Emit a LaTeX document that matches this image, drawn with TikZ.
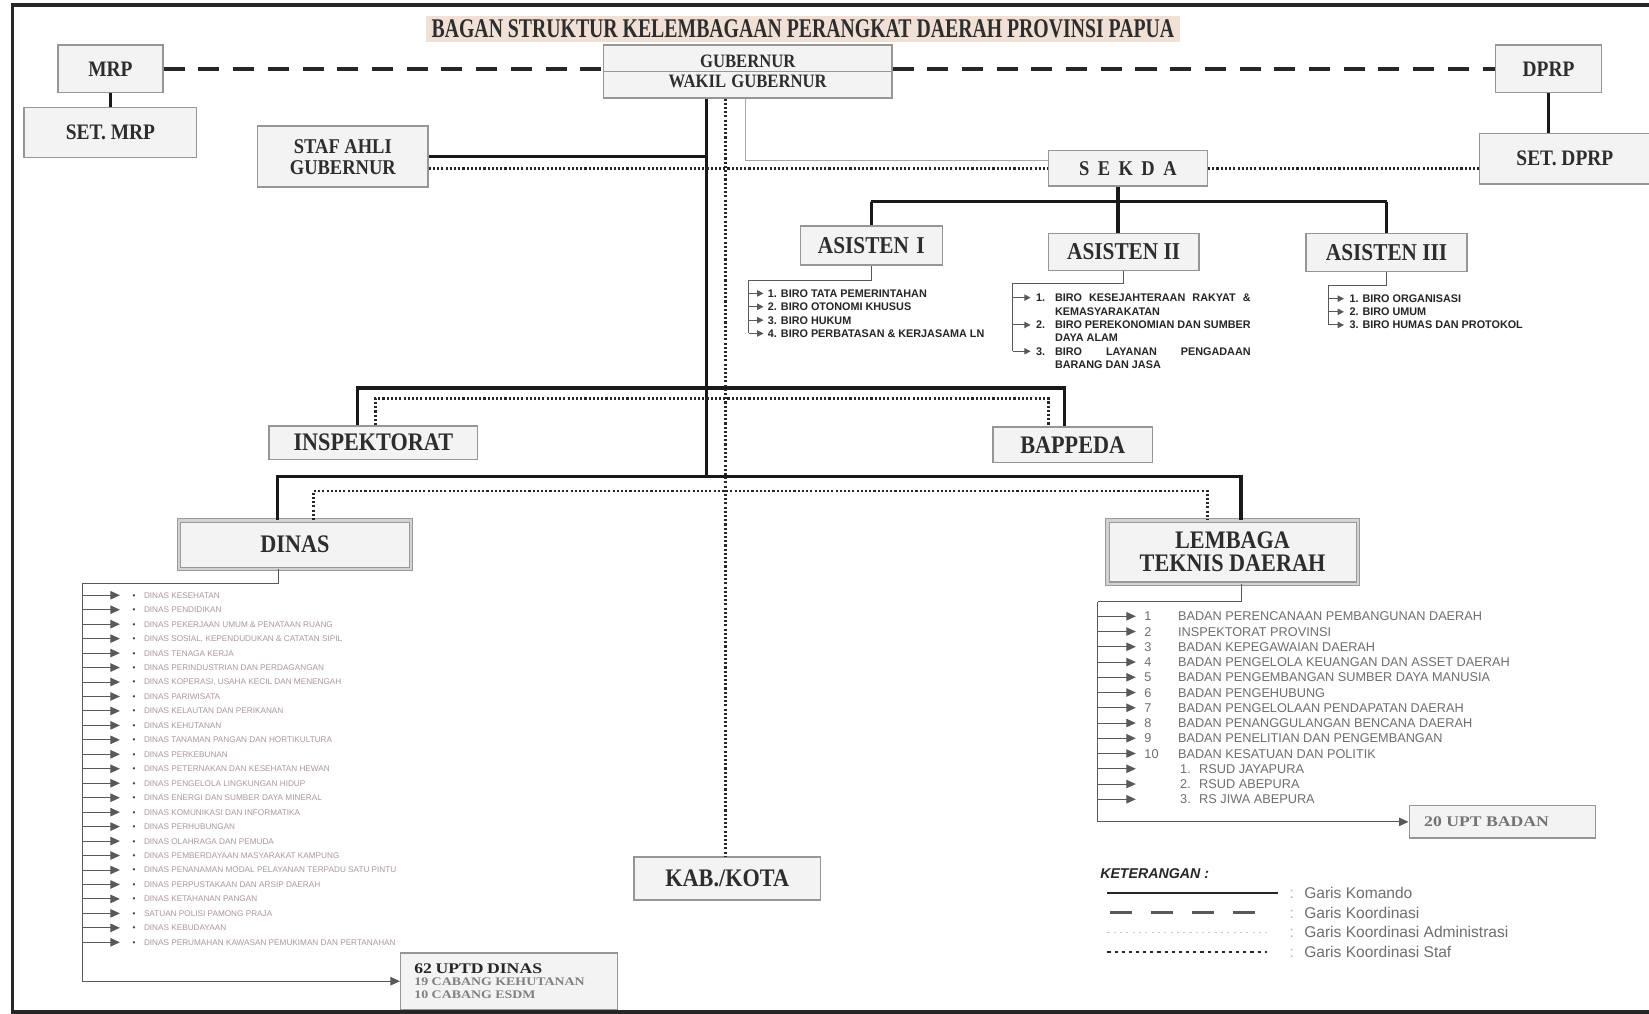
\documentclass[tikz,border=0pt]{standalone}
\usepackage{graphicx}
\usepackage{fontspec}
\setmainfont{Liberation Serif}
\setsansfont{Liberation Sans}
\newfontfamily\cserif[FakeStretch=0.88]{Liberation Serif}
\newfontfamily\wserif[FakeStretch=1.2]{Liberation Serif}
\newfontfamily\nsans[FakeStretch=0.98]{Liberation Sans}
\usetikzlibrary{arrows.meta,calc}
\definecolor{titlebg}{RGB}{240,224,214}
\definecolor{boxfill}{RGB}{243,243,243}
\definecolor{boxline}{RGB}{150,150,150}
\definecolor{dinastext}{RGB}{170,150,158}
\definecolor{ltdtext}{RGB}{110,110,110}
\definecolor{labeltext}{RGB}{45,45,45}
\newcommand{\fsz}[1]{\fontsize{#1}{#1}\selectfont}
\tikzset{
  orgbox/.style={draw=boxline, line width=1.4pt, fill=boxfill, inner sep=0pt, align=center, text=labeltext},
  lab/.style={font=\cserif\bfseries\fsz{#1}},
  bigbox/.style={orgbox, draw=gray!80, double=gray!35, double distance=2.2pt, line width=1pt},
  komando/.style={line width=3pt, black!90},
  koord/.style={line width=3.5pt, black!85, dash pattern=on 20pt off 13pt},
  stafline/.style={line width=2.4pt, black!85, dash pattern=on 2pt off 2pt},
  adminline/.style={line width=1pt, gray!70},
  listline/.style={line width=0.9pt, black!65},
  listarrow/.style={listline, -{Triangle[length=9pt,width=8pt]}},
  smallarrow/.style={listline, -{Triangle[length=6pt,width=6pt]}},
  asitem/.style={anchor=west, inner sep=0pt, font=\nsans\bfseries\fsz{10.5}, text=black!85, text height=7.6pt, text depth=0pt},
  dinasitem/.style={anchor=west, inner sep=0pt, font=\sffamily\fsz{7.8}, text=dinastext, text height=5.6pt, text depth=0pt},
  ltditem/.style={anchor=west, inner sep=0pt, font=\sffamily\fsz{12.1}, text=ltdtext, text height=8.7pt, text depth=0pt},
  legtext/.style={anchor=west, inner sep=0pt, font=\sffamily\fsz{14.8}, text=ltdtext, text height=10.6pt, text depth=0pt},
}
\begin{document}
\begin{tikzpicture}[x=1pt,y=-1pt]
\useasboundingbox (0,0) rectangle (1568,964);
\fill[white] (0,0) rectangle (1568,964);
\draw[line width=3.5pt, black!85] (1575,5) -- (12,5) -- (12,962) -- (1575,962);

% title
\node[fill=titlebg, minimum width=717pt, minimum height=25pt, inner sep=0pt] (title) at (763.5,27.5)
  {\resizebox{706pt}{17pt}{\cserif\bfseries\color{labeltext}BAGAN STRUKTUR KELEMBAGAAN PERANGKAT DAERAH PROVINSI PAPUA}};

% boxes
\node[orgbox, lab=21, minimum width=100pt, minimum height=45pt] (mrp) at (105,65.5) {MRP};
\node[orgbox, lab=21, minimum width=164pt, minimum height=48pt] (setmrp) at (105,126) {SET. MRP};
\node[orgbox, font=\cserif\bfseries\fontsize{18}{19}\selectfont, minimum width=274pt, minimum height=50pt] (gub) at (711,68) {GUBERNUR\\WAKIL\hspace{5pt}GUBERNUR};
\draw[boxline, line width=0.8pt] (gub.west) -- (gub.east);
\node[orgbox, lab=21, minimum width=101pt, minimum height=45pt] (dprp) at (1472.5,65.5) {DPRP};
\node[orgbox, lab=21, minimum width=162pt, minimum height=48pt] (setdprp) at (1488,151) {SET. DPRP};
\node[orgbox, font=\cserif\bfseries\fontsize{20}{20}\selectfont, minimum width=162pt, minimum height=58pt] (staf) at (326,149) {STAF AHLI\\GUBERNUR};
\node[orgbox, lab=20, minimum width=151pt, minimum height=34pt] (sekda) at (1072.5,160) {S\hspace{8pt}E\hspace{8pt}K\hspace{8pt}D\hspace{8pt}A};
\node[orgbox, lab=23, minimum width=135pt, minimum height=37pt] (as1) at (828.5,233.5) {ASISTEN\hspace{7pt}I};
\node[orgbox, lab=23, minimum width=143pt, minimum height=35pt] (as2) at (1068.5,239.5) {ASISTEN II};
\node[orgbox, lab=23, minimum width=153pt, minimum height=36pt] (as3) at (1318.5,240) {ASISTEN III};
\node[orgbox, lab=24, minimum width=198pt, minimum height=32pt] (insp) at (355,421) {INSPEKTORAT};
\node[orgbox, lab=24, minimum width=152pt, minimum height=34pt] (bap) at (1020,423) {BAPPEDA};
\node[bigbox, lab=24, minimum width=221pt, minimum height=46pt] (dinas) at (280.5,518) {DINAS};
\node[bigbox, font=\cserif\bfseries\fontsize{24}{22}\selectfont, minimum width=238pt, minimum height=60pt] (ltd) at (1172,525) {LEMBAGA\\TEKNIS DAERAH};
\node[orgbox, lab=24, minimum width=177pt, minimum height=41pt] (kab) at (691.5,835.5) {KAB./KOTA};
\node[orgbox, align=left, text width=180pt, inner xsep=13pt, minimum height=54pt, font=\wserif\bfseries] (uptd) at (484,933)
  {{\fontsize{14}{13}\selectfont\color{black!85}62 UPTD DINAS}\\[-1pt]
   {\fontsize{11}{12}\selectfont\color{gray}19 CABANG KEHUTANAN}\\
   {\fontsize{11}{12}\selectfont\color{gray}10 CABANG ESDM}};
\node[orgbox, font=\wserif\bfseries\fsz{14}, text=gray!90!black, minimum width=177pt, minimum height=31pt] (uptb) at (1428.5,781.5) {20 UPT BADAN\hspace{30pt}};

% coordinates
\coordinate (trunk) at (672,0);
\coordinate (adm) at (709,0);
\coordinate (dotx) at (690,0);
\coordinate (b1L) at (340,369); \coordinate (b1R) at (1012,369);
\coordinate (b2L) at (264,453); \coordinate (b2R) at (1180,453);
\coordinate (d1L) at (357,379); \coordinate (d1R) at (997,379);
\coordinate (d2L) at (298,467); \coordinate (d2R) at (1148,467);
\coordinate (sx) at (1063,192);
\coordinate (sd) at ([yshift=-11pt]staf.east);

% koordinasi (dashed)
\draw[koord] (mrp.east) -- (gub.west |- mrp.east);
\draw[koord] (gub.east |- dprp.west) -- (dprp.west);
% komando
\draw[komando] (mrp.south) -- (setmrp.north);
\draw[komando] (dprp.south) -- (dprp.south |- setdprp.north);
\draw[komando] (gub.south -| trunk) -- (trunk |- b2L);
\draw[komando] (staf.east) -- (staf.east -| trunk);
\draw[komando] (insp.north -| b1L) -- (b1L) -- (b1R) -- (bap.north -| b1R);
\draw[komando] (dinas.north -| b2L) -- (b2L) -- (b2R) -- (ltd.north -| b2R);
\draw[komando] (sekda.south -| sx) -- (sx);
\draw[komando] (as1.north |- sx) -- (as3.north |- sx);
\draw[komando] (as1.north |- sx) -- (as1.north);
\draw[komando] (sx) -- (as2.north -| sx);
\draw[komando] (as3.north |- sx) -- (as3.north);
% administrasi
\draw[adminline] (gub.south -| adm) |- ([yshift=7pt]sekda.west);
% staf (dotted)
\draw[stafline] (sd) -- (sd -| sekda.west);
\draw[stafline] (sekda.east) -- (sekda.east -| setdprp.west);
\draw[stafline] (gub.south -| dotx) -- (kab.north -| dotx);
\draw[stafline] (insp.north -| d1L) -- (d1L) -- (d1R) -- (bap.north -| d1R);
\draw[stafline] (dinas.north -| d2L) -- (d2L) -- (d2R) -- (ltd.north -| d2R);

% Asisten I list
\coordinate (a1c) at (712,267);
\foreach \t [count=\i] in {1. BIRO TATA PEMERINTAHAN, 2. BIRO OTONOMI KHUSUS, 3. BIRO HUKUM, 4. BIRO PERBATASAN \& KERJASAMA LN}
  \node[asitem] (a1i\i) at (730,{279+12.7*(\i-1)}) {\t};
\draw[listline] (as1.south) |- (a1c) -- (a1c |- a1i4.west);
\foreach \i in {1,...,4} \draw[smallarrow] (a1c |- a1i\i.west) -- ([xshift=-4pt]a1i\i.west);

% Asisten II list
\coordinate (a2c) at (963,270);
\node[asitem] (a2n1) at (985,283) {1.};
\node[asitem] (a2n2) at (985,309) {2.};
\node[asitem] (a2n3) at (985,334) {3.};
\node[asitem] (a2l1a) at (1003,283) {\makebox[186pt][s]{BIRO KESEJAHTERAAN RAKYAT \&}};
\node[asitem] (a2l1b) at (1003,296) {KEMASYARAKATAN};
\node[asitem] (a2l2a) at (1003,309) {\makebox[186pt][s]{BIRO PEREKONOMIAN DAN SUMBER}};
\node[asitem] (a2l2b) at (1003,321) {DAYA ALAM};
\node[asitem] (a2l3a) at (1003,334) {\makebox[186pt][s]{BIRO LAYANAN PENGADAAN}};
\node[asitem] (a2l3b) at (1003,347) {BARANG DAN JASA};
\draw[listline] (as2.south) |- (a2c) -- (a2c |- a2n3.west);
\foreach \i in {1,2,3} \draw[smallarrow] (a2c |- a2n\i.west) -- ([xshift=-5pt]a2n\i.west);

% Asisten III list
\coordinate (a3c) at (1263,271);
\foreach \t [count=\i] in {1. BIRO ORGANISASI, 2. BIRO UMUM, 3. BIRO HUMAS DAN PROTOKOL}
  \node[asitem] (a3i\i) at (1283,{284+12.5*(\i-1)}) {\t};
\draw[listline] (as3.south) |- (a3c) -- (a3c |- a3i3.west);
\foreach \i in {1,2,3} \draw[smallarrow] (a3c |- a3i\i.west) -- ([xshift=-5pt]a3i\i.west);

% Dinas list
\coordinate (dtop) at (265,555);
\coordinate (dleft) at (78,555);
\draw[listline] (dinas.south -| dtop) -- (dtop) -- (dleft);
\draw[listarrow] (dleft) |- (uptd.west);
\foreach \t [count=\i] in {DINAS KESEHATAN, DINAS PENDIDIKAN, DINAS PEKERJAAN UMUM \& PENATAAN RUANG,
  {DINAS SOSIAL, KEPENDUDUKAN \& CATATAN SIPIL}, DINAS TENAGA KERJA, DINAS PERINDUSTRIAN DAN PERDAGANGAN,
  {DINAS KOPERASI, USAHA KECIL DAN MENENGAH}, DINAS PARIWISATA, DINAS KELAUTAN DAN PERIKANAN,
  DINAS KEHUTANAN, DINAS TANAMAN PANGAN DAN HORTIKULTURA, DINAS PERKEBUNAN,
  DINAS PETERNAKAN DAN KESEHATAN HEWAN, DINAS PENGELOLA LINGKUNGAN HIDUP,
  DINAS ENERGI DAN SUMBER DAYA MINERAL, DINAS KOMUNIKASI DAN INFORMATIKA, DINAS PERHUBUNGAN,
  DINAS OLAHRAGA DAN PEMUDA, DINAS PEMBERDAYAAN MASYARAKAT KAMPUNG,
  DINAS PENANAMAN MODAL PELAYANAN TERPADU SATU PINTU, DINAS PERPUSTAKAAN DAN ARSIP DAERAH,
  DINAS KETAHANAN PANGAN, SATUAN POLISI PAMONG PRAJA, DINAS KEBUDAYAAN,
  DINAS PERUMAHAN KAWASAN PEMUKIMAN DAN PERTANAHAN}
{
  \node[dinasitem] (di\i) at (126,{566+13.75*(\i-1)}) {{\color{black!75}\textbullet}\hspace{8pt}\t};
  \draw[listarrow] (dleft |- di\i.west) -- ++(36,0);
}
\draw[listline] (dleft) -- (dleft |- uptd.west);

% LTD list
\coordinate (ltop) at (1180,572);
\coordinate (lleft) at (1044,572);
\draw[listline] (ltd.south -| ltop) -- (ltop) -- (lleft);
\draw[listarrow] (lleft) |- (uptb.west);
\foreach \t [count=\i] in {BADAN PERENCANAAN PEMBANGUNAN DAERAH, INSPEKTORAT PROVINSI, BADAN KEPEGAWAIAN DAERAH,
  BADAN PENGELOLA KEUANGAN DAN ASSET DAERAH, BADAN PENGEMBANGAN SUMBER DAYA MANUSIA, BADAN PENGEHUBUNG,
  BADAN PENGELOLAAN PENDAPATAN DAERAH, BADAN PENANGGULANGAN BENCANA DAERAH,
  BADAN PENELITIAN DAN PENGEMBANGAN, BADAN KESATUAN DAN POLITIK}
{
  \node[ltditem] (ln\i) at (1088,{586+14.5*(\i-1)}) {\i};
  \node[ltditem] (li\i) at (1120,{586+14.5*(\i-1)}) {\t};
  \draw[listarrow] (lleft |- li\i.west) -- ++(36,0);
}
\foreach \t [count=\i] in {RSUD JAYAPURA, RSUD ABEPURA, RS JIWA ABEPURA}
{
  \node[ltditem] (lr\i) at (1122,{586+14.5*(\i+9)}) {\i.\hspace{8pt}\t};
  \draw[listarrow] (lleft |- lr\i.west) -- ++(36,0);
}

% legend
\node[anchor=west, inner sep=0pt, font=\sffamily\bfseries\itshape\fsz{13.5}, text=black!85] (ket) at (1046,831) {KETERANGAN :};
\foreach \t [count=\i] in {Garis Komando, Garis Koordinasi, Garis Koordinasi Administrasi, Garis Koordinasi Staf}
{
  \node[legtext] (lg\i) at (1240,{849+18.7*(\i-1)}) {\t};
  \node[legtext, text=gray!60] (lc\i) at (1226,{849+18.7*(\i-1)}) {:};
}
\draw[line width=2.2pt, black!85] ([xshift=-187pt]lg1.west) -- ([xshift=-25pt]lg1.west);
\draw[line width=2.2pt, gray!70!black, dash pattern=on 21pt off 18pt] ([xshift=-185pt]lg2.west) -- ([xshift=-47pt]lg2.west);
\draw[line width=1pt, gray!45, dash pattern=on 2pt off 4pt] ([xshift=-187pt]lg3.west) -- ([xshift=-32pt]lg3.west);
\draw[line width=2.5pt, black!85, dash pattern=on 3pt off 3.8pt] ([xshift=-187pt]lg4.west) -- ([xshift=-35pt]lg4.west);
\end{tikzpicture}
\end{document}
